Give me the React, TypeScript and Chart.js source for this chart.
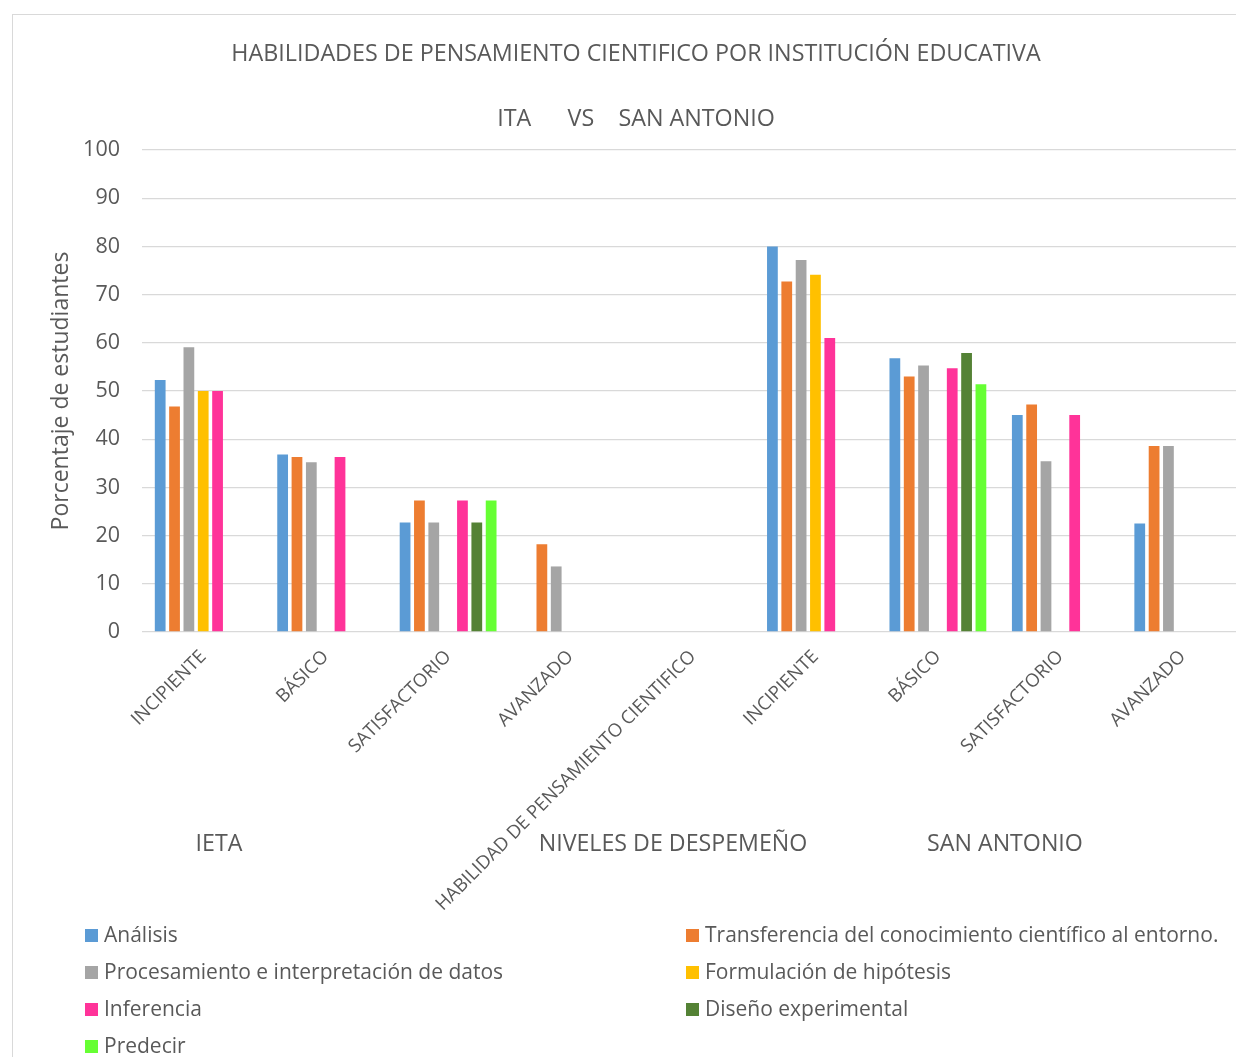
import React, { useEffect, useRef } from "react";
import { Chart, registerables } from "chart.js";

Chart.register(...registerables);

const categories = [
  "INCIPIENTE",
  "BÁSICO",
  "SATISFACTORIO",
  "AVANZADO",
  "HABILIDAD DE PENSAMIENTO CIENTIFICO",
  "INCIPIENTE",
  "BÁSICO",
  "SATISFACTORIO",
  "AVANZADO",
];

const analisis = [52.3, 36.8, 22.7, null, null, 80.0, 56.8, 45.0, 22.5];
const transferencia = [46.8, 36.3, 27.3, 18.2, null, 72.7, 53.0, 47.2, 38.6];
const procesamiento = [59.1, 35.2, 22.7, 13.6, null, 77.2, 55.3, 35.4, 38.6];
const formulacion = [50.0, null, null, null, null, 74.1, null, null, null];
const inferencia = [50.0, 36.3, 27.3, null, null, 61.0, 54.7, 45.0, null];
const diseno = [null, null, 22.7, null, null, null, 57.9, null, null];
const predecir = [null, null, 27.3, null, null, null, 51.4, null, null];

const seriesLabels = [
  "Análisis",
  "Transferencia del conocimiento científico al entorno.",
  "Procesamiento e interpretación de datos",
  "Formulación de hipótesis",
  "Inferencia",
  "Diseño experimental",
  "Predecir",
];
const seriesColors = ["#5B9BD5", "#ED7D31", "#A5A5A5", "#FFC000", "#FF3399", "#548235", "#66FF33"];
const seriesValues = [analisis, transferencia, procesamiento, formulacion, inferencia, diseno, predecir];

const yTicks = [0, 10, 20, 30, 40, 50, 60, 70, 80, 90, 100];

const chartTitle = "HABILIDADES DE PENSAMIENTO CIENTIFICO POR INSTITUCIÓN EDUCATIVA";
const chartSubtitle = "ITA      VS    SAN ANTONIO";
const yTitle = "Porcentaje de estudiantes";
const bottomTexts = ["IETA", "NIVELES DE DESPEMEÑO", "SAN ANTONIO"];

const FONT = "'Open Sans', 'Noto Sans', sans-serif";
const TEXT = "#595959";

const decor = {
  id: "decor",
  beforeDraw(chart: any) {
    const ctx = chart.ctx;
    ctx.save();
    ctx.fillStyle = "#ffffff";
    ctx.fillRect(0, 0, chart.width, chart.height);
    ctx.strokeStyle = "#d9d9d9";
    ctx.lineWidth = 1;
    ctx.strokeRect(12.5, 14.5, chart.width + 20, chart.height + 20);
    ctx.restore();
  },
  afterDraw(chart: any) {
    const ctx = chart.ctx;
    ctx.save();
    ctx.fillStyle = TEXT;
    ctx.textBaseline = "middle";
    ctx.textAlign = "center";
    ctx.font = `23.3px ${FONT}`;
    ctx.fillText(chartTitle, 636, 54);
    ctx.fillText(chartSubtitle, 636, 119);

    // y title
    ctx.save();
    ctx.translate(61, 391);
    ctx.rotate(-Math.PI / 2);
    ctx.font = `23px ${FONT}`;
    ctx.fillText(yTitle, 0, 0);
    ctx.restore();

    // bottom texts
    ctx.font = `23.2px ${FONT}`;
    const bx = [219, 673, 1005];
    bottomTexts.forEach((t, i) => ctx.fillText(t, bx[i], 844));

    // legend
    ctx.font = `21px ${FONT}`;
    ctx.textAlign = "left";
    const ds = chart.data.datasets;
    ds.forEach((d: any, i: number) => {
      const col = i % 2;
      const row = Math.floor(i / 2);
      const x = col === 0 ? 85 : 686;
      const y = 935 + row * 37;
      ctx.fillStyle = d.backgroundColor;
      ctx.fillRect(x, y - 6, 13, 13);
      ctx.fillStyle = TEXT;
      ctx.fillText(d.label, x + 19, y + 1);
    });
    ctx.restore();
  },
};

export default function App() {
  const ref = useRef<HTMLCanvasElement | null>(null);
  useEffect(() => {
    if (!ref.current) return;
    const chart = new Chart(ref.current, {
      type: "bar",
      data: {
        labels: categories,
        datasets: seriesLabels.map((label, i) => ({
          label,
          data: seriesValues[i],
          backgroundColor: seriesColors[i],
          borderWidth: 0,
          categoryPercentage: 0.82,
          barPercentage: 0.75,
        })),
      },
      options: {
        responsive: false,
        animation: false,
        layout: { padding: { top: 150, right: 2, left: 0, bottom: 0 } },
        plugins: {
          legend: { display: false },
          title: { display: false },
          tooltip: { enabled: false },
        },
        scales: {
          x: {
            grid: { display: false },
            border: { display: false },
            ticks: {
              autoSkip: false,
              minRotation: 45,
              maxRotation: 45,
              color: TEXT,
              font: { family: FONT, size: 18.5 },
              padding: 6,
            },
            afterFit(scale: any) {
              scale.height = 425;
            },
          },
          y: {
            min: 0,
            max: 100,
            afterBuildTicks(scale: any) {
              scale.ticks = yTicks.map((v) => ({ value: v }));
            },
            grid: { color: "#d9d9d9", drawTicks: false, lineWidth: 1.3 },
            border: { display: false },
            ticks: {
              color: TEXT,
              font: { family: FONT, size: 21.5 },
              padding: 22,
            },
            afterFit(scale: any) {
              scale.width = 142;
            },
          },
        },
      },
      plugins: [decor],
    });
    return () => chart.destroy();
  }, []);
  return (
    <div
      style={{
        position: "fixed",
        left: 0,
        top: 0,
        width: 1236,
        height: 1057,
        overflow: "hidden",
        background: "#fff",
      }}
    >
      <canvas ref={ref} width={1246} height={1057} style={{ display: "block" }} />
    </div>
  );
}
